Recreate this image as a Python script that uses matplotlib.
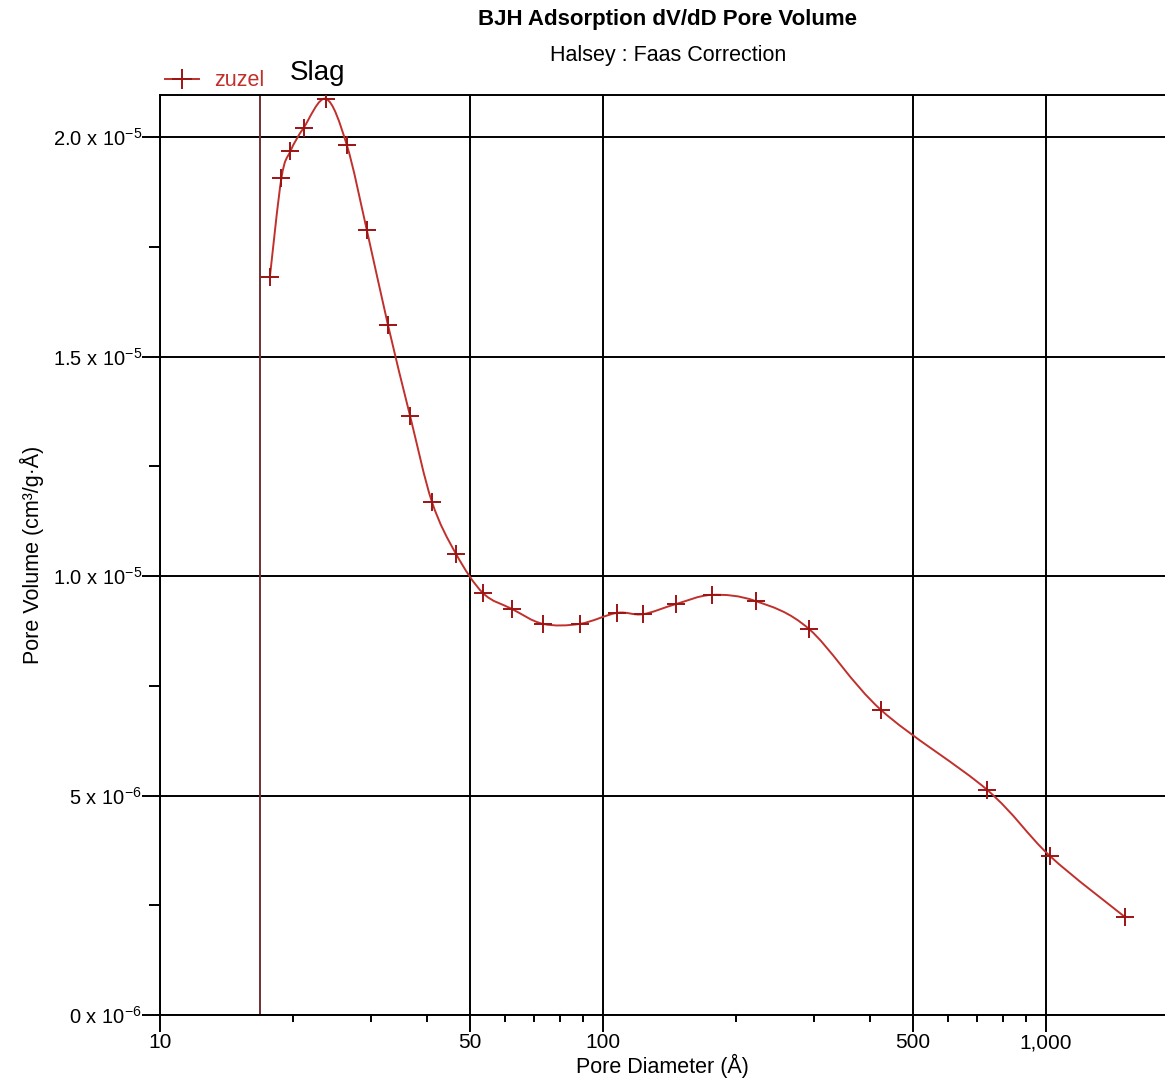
import numpy as np
import matplotlib
matplotlib.use("Agg")
import matplotlib.pyplot as plt
from matplotlib.path import Path
from matplotlib.patches import PathPatch
from matplotlib.lines import Line2D
from matplotlib.ticker import FixedLocator, FixedFormatter

plt.rcParams["font.family"] = ["Liberation Sans", "DejaVu Sans"]
plt.rcParams["mathtext.fontset"] = "custom"
plt.rcParams["mathtext.rm"] = "Liberation Sans"

# 数据：孔径 (Å) 与 dV/dD 孔体积 (cm³/g·Å)
pore_diameter = [17.7, 18.8, 19.7, 21.1, 23.7, 26.4, 29.3, 32.7, 36.7, 41.1,
                 46.6, 53.6, 62.3, 73.2, 88.7, 107.5, 123.0, 146.0, 176.0,
                 221.0, 292.0, 424.0, 736.0, 1021.0, 1508.0]
pore_volume = [1.681e-5, 1.907e-5, 1.968e-5, 2.021e-5, 2.087e-5, 1.982e-5,
               1.788e-5, 1.572e-5, 1.364e-5, 1.169e-5, 1.050e-5, 0.961e-5,
               0.925e-5, 0.891e-5, 0.891e-5, 0.916e-5, 0.913e-5, 0.936e-5,
               0.957e-5, 0.943e-5, 0.879e-5, 0.695e-5, 0.513e-5, 0.362e-5,
               0.223e-5]
marker_line_x = 16.8

x_major = [10, 50, 100, 500, 1000]
x_major_labels = ["10", "50", "100", "500", "1,000"]
x_minor = [20, 30, 40, 60, 70, 80, 90, 200, 300, 400, 600, 700, 800, 900]
y_major = [0, 5e-6, 1e-5, 1.5e-5, 2e-5]
y_major_labels = [r"0 x 10$^{-6}$", r"5 x 10$^{-6}$", r"1.0 x 10$^{-5}$",
                  r"1.5 x 10$^{-5}$", r"2.0 x 10$^{-5}$"]
y_minor = [2.5e-6, 7.5e-6, 1.25e-5, 1.75e-5]

LINE_C = "#c0302c"
MARK_C = "#9c1414"

fig = plt.figure(figsize=(11.65, 10.83), dpi=100)
ax = fig.add_axes([160 / 1165, 1 - 1015 / 1083, 1 - 160 / 1165, (1015 - 95) / 1083])
ax.set_xscale("log")
ax.set_xlim(10, 1856)
ax.set_ylim(0, 2.0957e-5)

# Catmull-Rom 平滑曲线（在 log10(x) 空间中构造贝塞尔控制点）
lx = np.log10(pore_diameter)
yy = np.array(pore_volume)
verts = [(pore_diameter[0], pore_volume[0])]
codes = [Path.MOVETO]
n = len(lx)
for i in range(n - 1):
    p0 = (lx[max(i - 1, 0)], yy[max(i - 1, 0)])
    p1 = (lx[i], yy[i])
    p2 = (lx[i + 1], yy[i + 1])
    p3 = (lx[min(i + 2, n - 1)], yy[min(i + 2, n - 1)])
    c1 = (p1[0] + (p2[0] - p0[0]) / 6, p1[1] + (p2[1] - p0[1]) / 6)
    c2 = (p2[0] - (p3[0] - p1[0]) / 6, p2[1] - (p3[1] - p1[1]) / 6)
    for c in (c1, c2, p2):
        verts.append((10 ** c[0], c[1]))
        codes.append(Path.CURVE4)
ax.add_patch(PathPatch(Path(verts, codes), facecolor="none", edgecolor=LINE_C,
                       lw=1.4, zorder=3))
ax.plot(pore_diameter, pore_volume, ls="none", marker="+", ms=13, mew=1.4,
        color=MARK_C, zorder=4)

ax.axvline(marker_line_x, color="#6e3232", lw=1.4, zorder=2)

# 网格与坐标轴
ax.xaxis.set_major_locator(FixedLocator(x_major))
ax.xaxis.set_major_formatter(FixedFormatter(x_major_labels))
ax.xaxis.set_minor_locator(FixedLocator(x_minor))
ax.xaxis.set_minor_formatter(FixedFormatter([""] * len(x_minor)))
ax.yaxis.set_major_locator(FixedLocator(y_major))
ax.yaxis.set_major_formatter(FixedFormatter(y_major_labels))
ax.yaxis.set_minor_locator(FixedLocator(y_minor))
ax.grid(True, which="major", color="black", lw=1.4)
ax.set_axisbelow(True)
for s in ("left", "bottom", "top"):
    ax.spines[s].set_linewidth(1.4)
ax.spines["right"].set_visible(False)
ax.tick_params(which="major", axis="x", length=12, width=1.4, pad=1,
               labelsize=15, direction="out")
ax.tick_params(which="minor", axis="x", length=5, width=1.4, direction="out")
ax.tick_params(which="major", axis="y", length=13, width=1.4, pad=0,
               labelsize=14.5, direction="out")
ax.tick_params(which="minor", axis="y", length=8, width=1.4, direction="out")

ax.set_xlabel("Pore Diameter (Å)", fontsize=15.5, labelpad=1)
ax.set_ylabel("Pore Volume (cm³/g·Å)", fontsize=15.5, labelpad=6)

fig.text(668 / 1165, 1 - 20 / 1083, "BJH Adsorption dV/dD Pore Volume",
         ha="center", va="center", fontsize=16, fontweight="bold")
fig.text(668 / 1165, 1 - 56 / 1083, "Halsey : Faas Correction",
         ha="center", va="center", fontsize=15.5)
fig.text(290 / 1165, 1 - 73 / 1083, "Slag", ha="left", va="center", fontsize=20)

handle = Line2D([], [], color=LINE_C, marker="+", ms=15, mew=1.4, lw=1.4,
                markeredgecolor=MARK_C)
fig.legend([handle], ["zuzel"], loc="center left",
           bbox_to_anchor=(165 / 1165, 1 - 81 / 1083), frameon=False,
           fontsize=15.5, labelcolor=LINE_C, handlelength=1.6, handletextpad=0.7,
           borderpad=0, borderaxespad=0)

fig.savefig("out.png", dpi=100)
